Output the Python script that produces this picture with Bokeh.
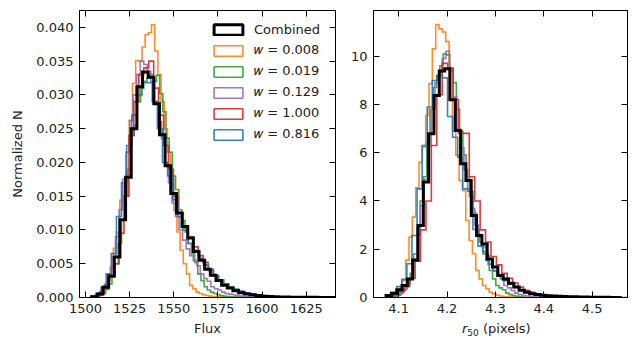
import numpy as np
from bokeh.plotting import figure
from bokeh.layouts import row, column
from bokeh.models import (FixedTicker, PrintfTickFormatter, LinearAxis, Legend, LegendItem,
                          Range1d, CustomJSTickFormatter, Div)
from bokeh.embed import file_html
from bokeh.resources import INLINE

FONT = "DejaVu Sans"

# ---------------- data: left panel (Flux) ----------------
# each histogram: first bin edge, bin width, normalized counts
flux_combined_start, flux_combined_width = 1503.5, 3.2
flux_combined = [0.0001, 0.0005, 0.0015, 0.0032, 0.0060, 0.0115, 0.0178, 0.0250, 0.0312, 0.0334,
                 0.0326, 0.0287, 0.0241, 0.0195, 0.0154, 0.0125, 0.0105, 0.0088, 0.0068, 0.0055,
                 0.0042, 0.0033, 0.0025, 0.0018, 0.0014, 0.0010, 0.0007, 0.0005, 0.0004, 0.0003,
                 0.0002, 0.00015, 0.0001, 0.00008, 0.00006, 0.00005, 0.00004, 0.00003, 0.00002,
                 0.00002, 0.00001, 0.00001, 0.00001]

flux_w0008_start, flux_w0008_width = 1505.0, 1.8
flux_w0008 = [0.0001, 0.0003, 0.0006, 0.0013, 0.0025, 0.0045, 0.0073, 0.0097, 0.0144, 0.0165,
              0.0215, 0.0262, 0.0317, 0.0351, 0.0350, 0.0371, 0.0389, 0.0392, 0.0404, 0.0365,
              0.0330, 0.0290, 0.0250, 0.0215, 0.0175, 0.0129, 0.0097, 0.0070, 0.0050, 0.0035,
              0.0018, 0.0013, 0.0008, 0.0006, 0.0004, 0.0003, 0.0002, 0.00015, 0.0001, 0.0001,
              0.00005, 0.00003, 0.00003, 0.00002, 0.00002, 0.00001, 0.00001, 0.00001]

flux_w0019_start, flux_w0019_width = 1506.0, 1.8
flux_w0019 = [0.0001, 0.0003, 0.0006, 0.0012, 0.0020, 0.0032, 0.0050, 0.0080, 0.0115, 0.0150,
              0.0190, 0.0240, 0.0255, 0.0290, 0.0310, 0.0320, 0.0325, 0.0330, 0.0320, 0.0329,
              0.0302, 0.0275, 0.0236, 0.0215, 0.0180, 0.0160, 0.0130, 0.0114, 0.0097, 0.0080,
              0.0065, 0.0052, 0.0035, 0.0025, 0.0016, 0.0011, 0.0008, 0.0006, 0.0004, 0.0003,
              0.0002, 0.00015, 0.0001, 0.00007, 0.00005, 0.00003, 0.00002]

flux_w0129_start, flux_w0129_width = 1505.0, 2.0
flux_w0129 = [0.0002, 0.0005, 0.0010, 0.0020, 0.0035, 0.0060, 0.0090, 0.0130, 0.0175, 0.0215,
              0.0262, 0.0300, 0.0330, 0.0350, 0.0345, 0.0335, 0.0320, 0.0290, 0.0260, 0.0235,
              0.0200, 0.0170, 0.0140, 0.0120, 0.0100, 0.0085, 0.0072, 0.0062, 0.0055, 0.0047,
              0.0035, 0.0028, 0.0024, 0.0016, 0.0013, 0.0011, 0.0008, 0.0006, 0.0005, 0.0004,
              0.0003, 0.0002, 0.00015, 0.0001, 0.0001, 0.00005, 0.00003, 0.00002]

flux_w1000_start, flux_w1000_width = 1505.0, 2.8
flux_w1000 = [0.0003, 0.0008, 0.0018, 0.0030, 0.0050, 0.0095, 0.0150, 0.0240, 0.0290, 0.0330,
              0.0340, 0.0350, 0.0310, 0.0270, 0.0225, 0.0190, 0.0150, 0.0125, 0.0105, 0.0090,
              0.0075, 0.0062, 0.0052, 0.0042, 0.0033, 0.0026, 0.0020, 0.0015, 0.0012, 0.0009,
              0.0007, 0.0005, 0.0004, 0.0003, 0.0002, 0.00015, 0.0001, 0.0001, 0.00008, 0.00006,
              0.00005, 0.00004, 0.00003, 0.00003, 0.00002, 0.00002, 0.00001, 0.00001, 0.00001,
              0.00001]

flux_w0816_start, flux_w0816_width = 1503.0, 2.9
flux_w0816 = [0.0002, 0.0006, 0.0015, 0.0035, 0.0065, 0.0120, 0.0170, 0.0225, 0.0270, 0.0300,
              0.0318, 0.0318, 0.0290, 0.0250, 0.0200, 0.0180, 0.0145, 0.0120, 0.0100, 0.0080,
              0.0070, 0.0058, 0.0048, 0.0040, 0.0032, 0.0026, 0.0020, 0.0015, 0.0012, 0.0009,
              0.0007, 0.0005, 0.0004, 0.0003, 0.0002, 0.00015, 0.0001, 0.0001, 0.00008, 0.00006,
              0.00005, 0.00004, 0.00003, 0.00003, 0.00002, 0.00002, 0.00001, 0.00001]

# ---------------- data: right panel (r50) ----------------
r50_combined_start, r50_combined_width = 4.074, 0.011
r50_combined = [0.08, 0.18, 0.32, 0.50, 0.77, 1.55, 2.98, 4.78, 6.78, 8.37,
                9.38, 9.48, 8.19, 6.92, 5.54, 4.85, 3.40, 2.57, 2.22, 1.60,
                1.26, 0.91, 0.77, 0.59, 0.43, 0.30, 0.22, 0.16, 0.12, 0.09,
                0.07, 0.06, 0.05, 0.04, 0.035, 0.03, 0.02, 0.02, 0.015, 0.01,
                0.01, 0.008, 0.005, 0.005]

r50_w0008_start, r50_w0008_width = 4.080, 0.0069
r50_w0008 = [0.03, 0.08, 0.15, 0.35, 0.70, 1.55, 2.50, 3.33, 4.55, 5.60,
             6.23, 7.54, 8.86, 10.3, 11.31, 11.13, 11.0, 10.6, 8.2, 6.9,
             5.9, 4.85, 4.43, 3.19, 2.36, 1.81, 1.12, 0.77, 0.50, 0.36,
             0.22, 0.15, 0.10, 0.06, 0.04, 0.03, 0.02, 0.015, 0.01, 0.01]

r50_w0019_start, r50_w0019_width = 4.090, 0.0068
r50_w0019 = [0.05, 0.10, 0.20, 0.35, 0.55, 1.0, 1.8, 2.9, 4.0, 5.0,
             6.4, 7.8, 8.7, 9.2, 9.6, 10.1, 10.05, 9.5, 8.9, 7.8,
             6.9, 5.9, 5.0, 4.2, 3.5, 2.8, 2.3, 1.9, 1.53, 1.12,
             0.77, 0.50, 0.40, 0.32, 0.18, 0.12, 0.08, 0.05, 0.03, 0.02]

r50_w0129_start, r50_w0129_width = 4.085, 0.0075
r50_w0129 = [0.04, 0.08, 0.15, 0.30, 0.55, 0.80, 1.50, 2.60, 3.80, 4.90,
             6.30, 7.80, 8.90, 9.30, 9.90, 10.2, 9.40, 8.30, 7.00, 6.20,
             5.30, 4.50, 3.70, 3.00, 2.50, 2.10, 1.75, 1.40, 1.12, 0.90,
             0.77, 0.50, 0.40, 0.29, 0.18, 0.12, 0.08, 0.06, 0.04, 0.03,
             0.02, 0.01]

r50_w1000_start, r50_w1000_width = 4.078, 0.0112
r50_w1000 = [0.04, 0.12, 0.25, 0.45, 0.80, 1.50, 2.80, 4.00, 6.30, 8.40,
             9.70, 9.50, 8.20, 6.80, 6.80, 5.00, 4.00, 2.80, 2.30, 1.70,
             1.35, 1.00, 0.80, 0.60, 0.43, 0.30, 0.22, 0.15, 0.11, 0.08,
             0.06, 0.05, 0.04, 0.03, 0.025, 0.02, 0.015, 0.01, 0.01, 0.008,
             0.005, 0.005, 0.003, 0.003]

r50_w0816_start, r50_w0816_width = 4.075, 0.0105
r50_w0816 = [0.08, 0.20, 0.45, 0.75, 1.40, 2.57, 4.50, 6.30, 7.89, 8.99,
             9.20, 9.10, 7.50, 6.64, 5.81, 4.50, 4.40, 2.82, 2.13, 1.80,
             1.38, 1.10, 0.90, 0.70, 0.55, 0.42, 0.30, 0.22, 0.16, 0.12,
             0.09, 0.07, 0.05, 0.04, 0.03, 0.025, 0.02, 0.015, 0.01, 0.01,
             0.008, 0.005, 0.005, 0.003, 0.003]

labels = ["Combined", "\U0001D464 = 0.008", "\U0001D464 = 0.019", "\U0001D464 = 0.129",
          "\U0001D464 = 1.000", "\U0001D464 = 0.816"]
colors = ["black", "#ff7f0e", "#2ca02c", "#9467bd", "#d62728", "#1f77b4"]

flux_series = [(flux_combined_start, flux_combined_width, flux_combined),
               (flux_w0008_start, flux_w0008_width, flux_w0008),
               (flux_w0019_start, flux_w0019_width, flux_w0019),
               (flux_w0129_start, flux_w0129_width, flux_w0129),
               (flux_w1000_start, flux_w1000_width, flux_w1000),
               (flux_w0816_start, flux_w0816_width, flux_w0816)]
r50_series = [(r50_combined_start, r50_combined_width, r50_combined),
              (r50_w0008_start, r50_w0008_width, r50_w0008),
              (r50_w0019_start, r50_w0019_width, r50_w0019),
              (r50_w0129_start, r50_w0129_width, r50_w0129),
              (r50_w1000_start, r50_w1000_width, r50_w1000),
              (r50_w0816_start, r50_w0816_width, r50_w0816)]

flux_ticks = [1500, 1525, 1550, 1575, 1600, 1625]
flux_yticks = [0.000, 0.005, 0.010, 0.015, 0.020, 0.025, 0.030, 0.035, 0.040]
r50_ticks = [4.1, 4.2, 4.3, 4.4, 4.5]
r50_yticks = [0, 2, 4, 6, 8, 10]

TXT = "#222222"


def step_xy(start, width, vals):
    edges = start + width * np.arange(len(vals) + 1)
    xs = [edges[0]]
    ys = [0.0]
    for i, v in enumerate(vals):
        xs += [edges[i], edges[i + 1]]
        ys += [v, v]
    xs.append(edges[-1])
    ys.append(0.0)
    return xs, ys


def style_axis(ax, ticker, fmt, show_labels=True):
    ax.ticker = FixedTicker(ticks=ticker)
    ax.major_tick_in = 6
    ax.major_tick_out = 0
    ax.minor_tick_in = 0
    ax.minor_tick_out = 0
    ax.axis_line_color = "black"
    ax.major_tick_line_color = "black"
    ax.major_tick_line_width = 1
    if show_labels:
        ax.formatter = PrintfTickFormatter(format=fmt)
        ax.major_label_text_font = FONT
        ax.major_label_text_font_size = "13px"
        ax.major_label_text_color = TXT
        ax.major_label_standoff = 6
        ax.axis_label_text_font = FONT
        ax.axis_label_text_font_size = "13px"
        ax.axis_label_text_font_style = "normal"
        ax.axis_label_text_color = TXT
    else:
        ax.formatter = CustomJSTickFormatter(code="return ''")
        ax.major_label_text_font_size = "1px"
        ax.major_label_standoff = 0


def make_panel(series, xr, yr, xticks, yticks, xfmt, yfmt, xlabel, ylabel,
               frame_w, mbl, mbr, mbb, with_legend):
    p = figure(frame_width=frame_w, frame_height=287, x_range=Range1d(*xr), y_range=Range1d(*yr),
               min_border_left=mbl, min_border_right=mbr, min_border_top=10, min_border_bottom=mbb,
               output_backend="svg", toolbar_location=None)
    p.xgrid.visible = False
    p.ygrid.visible = False
    p.outline_line_color = "black"
    p.outline_line_width = 1
    p.outline_line_alpha = 1
    p.background_fill_color = "white"
    p.border_fill_color = "white"

    style_axis(p.xaxis[0], xticks, xfmt)
    style_axis(p.yaxis[0], yticks, yfmt)
    if xlabel:
        p.xaxis[0].axis_label = xlabel
        p.xaxis[0].axis_label_standoff = 5
    if ylabel:
        p.yaxis[0].axis_label = ylabel
        p.yaxis[0].axis_label_standoff = 8
    top = LinearAxis()
    style_axis(top, xticks, None, show_labels=False)
    p.add_layout(top, "above")
    right = LinearAxis()
    style_axis(right, yticks, None, show_labels=False)
    p.add_layout(right, "right")

    # colored series first, combined on top
    order = [1, 2, 3, 4, 5, 0]
    for i in order:
        start, width, vals = series[i]
        xs, ys = step_xy(start, width, vals)
        p.line(xs, ys, line_color=colors[i], line_width=3.0 if i == 0 else 1.6,
               line_alpha=1.0 if i == 0 else 0.9, line_join="miter")

    if with_legend:
        items = []
        for i in range(6):
            r = p.quad(left=[np.nan], right=[np.nan], top=[np.nan], bottom=[np.nan],
                       fill_color=None, line_color=colors[i],
                       line_width=3.0 if i == 0 else 1.6,
                       line_alpha=1.0 if i == 0 else 0.9)
            items.append(LegendItem(label=labels[i], renderers=[r]))
        leg = Legend(items=items, location=(131, 155))
        leg.glyph_width = 36
        leg.glyph_height = 13
        leg.label_height = 15
        leg.spacing = 5
        leg.padding = 5
        leg.margin = 0
        leg.label_standoff = 8
        leg.label_text_font = FONT
        leg.label_text_font_size = "13px"
        leg.label_text_color = TXT
        leg.border_line_color = None
        leg.background_fill_alpha = 0
        p.add_layout(leg)
    return p


p1 = make_panel(flux_series, (1496.6, 1641.6), (0, 0.0425), flux_ticks, flux_yticks,
                "%d", "%.3f", "Flux", "Normalized N", 256, 79, 10, 42, True)
p2 = make_panel(r50_series, (4.048, 4.573), (0, 11.89), r50_ticks, r50_yticks,
                "%.1f", "%d", None, None, 254, 28, 10, 24, False)

# x-axis label of the right panel: italic r with subscript 50, then "(pixels)"
r50_label = Div(
    text='<i>r</i><span style="font-size:9px;position:relative;top:3px">50</span> (pixels)',
    width=292, height=18, margin=(0, 0, 0, 0),
    styles={"font-family": FONT, "font-size": "13px", "color": TXT,
            "padding-left": "117px", "line-height": "15px", "white-space": "nowrap"})

layout = row(p1, column(p2, r50_label, spacing=0), spacing=0)
open("out.html", "w").write(file_html(layout, INLINE))
